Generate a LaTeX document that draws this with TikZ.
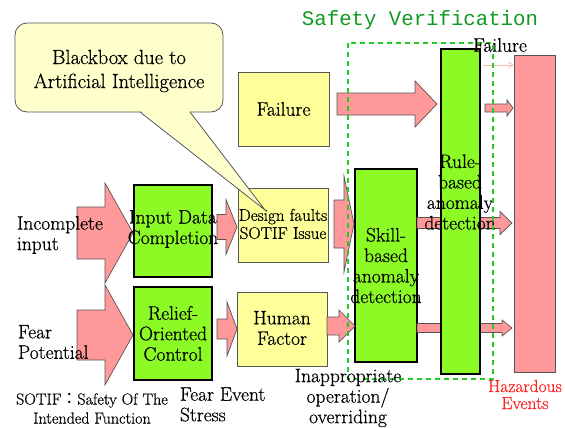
\documentclass[tikz,border=0pt]{standalone}
\usepackage{fontspec}
\usetikzlibrary{arrows.meta}
\setmainfont{Latin Modern Roman}[FakeBold=0.6]
\newfontfamily\titlemono{Liberation Mono}
\newfontfamily\cjkfont{Noto Sans CJK JP}
\definecolor{boxyellow}{HTML}{FFFF99}
\definecolor{calloutfill}{HTML}{FFFFCC}
\definecolor{limegreen}{HTML}{8CFA24}
\definecolor{arrowpink}{HTML}{FF9999}
\definecolor{lightpink}{HTML}{FFB8B8}
\definecolor{edgegray}{HTML}{555555}
\definecolor{verifgreen}{HTML}{22CC22}
\definecolor{titlegreen}{HTML}{119922}
\definecolor{hazardred}{HTML}{FF2222}
\newcommand{\lblfont}{\fontsize{19.5}{20.5}\selectfont}
\newcommand{\smallfont}{\fontsize{16}{19}\selectfont}
% block arrow: x start, x head base, x tip, y centre, shaft half height, head half height
\newcommand{\pinkarrow}[6]{%
  \draw[blockarrow] (#1,{#4-#5}) -- (#2,{#4-#5}) -- (#2,{#4-#6}) -- (#3,#4)
    -- (#2,{#4+#6}) -- (#2,{#4+#5}) -- (#1,{#4+#5}) -- cycle;}
\tikzset{
  yellowbox/.style={draw=edgegray, line width=0.8pt, fill=boxyellow, inner sep=0pt,
    outer sep=0pt},
  greenbox/.style={draw=black, line width=2pt, fill=limegreen, inner sep=0pt,
    outer sep=0pt},
  blockarrow/.style={draw=edgegray, line width=0.7pt, fill=arrowpink, line join=miter},
  lbl/.style={inner sep=0pt, outer sep=0pt, align=center, font=\lblfont},
}
\begin{document}
\begin{tikzpicture}[x=1pt,y=-1pt]
\useasboundingbox (0,0) rectangle (565,428);

% large input arrows
\pinkarrow{77}{105}{133}{233}{26}{50}
\pinkarrow{77}{105}{133}{335}{25}{50}

% processing boxes (labels are set on top so that they may run past the borders)
\node[greenbox, minimum width=78pt, minimum height=92pt] (input) at (173,231) {};
\node[greenbox, minimum width=78pt, minimum height=93pt] (relief) at (173,333.5) {};
\node[yellowbox, minimum width=91pt, minimum height=74pt] (failure) at (283.5,109) {};
\node[yellowbox, minimum width=90pt, minimum height=74pt] (design) at (283,225) {};
\node[yellowbox, minimum width=90pt, minimum height=74pt] (human) at (282,329) {};
\node[greenbox, minimum width=62pt, minimum height=193pt] (skill) at (386,265.5) {};

\node[lbl] (inputlbl) at ([yshift=2pt]input.center) {Input Data\\Completion};
\node[lbl] (relieflbl) at (relief.center) {Relief-\\Oriented\\Control};
\node[lbl] (failurelbl) at (failure.center) {Failure};
\node[lbl, font=\fontsize{17}{18}\selectfont] (designlbl) at ([yshift=1pt]design.center) {Design faults\\SOTIF Issue};
\node[lbl] (humanlbl) at ([yshift=1pt]human.center) {Human\\Factor};
\node[lbl] (skilllbl) at (skill.center) {Skill-\\based\\anomaly\\detection};

% connecting arrows
\pinkarrow{217}{226}{237}{227}{12.5}{27.5}
\pinkarrow{217}{227}{237}{329}{10}{27}
\pinkarrow{334}{344}{354}{224}{24}{48}
\pinkarrow{327}{339}{355}{326}{9}{16}
\pinkarrow{337}{415}{437}{104}{11}{23}

% arrows from the skill-based stage pass behind the rule-based stage
\pinkarrow{417}{500}{512}{223}{5.5}{11.5}
\pinkarrow{417}{502}{512}{328}{4.5}{8}

\node[greenbox, minimum width=39pt, minimum height=325pt] (rule) at (460.5,211.5) {};
\node[lbl] (rulelbl) at (460,192) {Rule-\\based\\anomaly\\detection};

% hazardous events column
\pinkarrow{485}{507}{513}{108}{4}{8}
\node[draw=edgegray, line width=0.8pt, fill=arrowpink, inner sep=0pt, outer sep=0pt,
  minimum width=41pt, minimum height=317pt] (hazard) at (534.5,213.5) {};
\coordinate (failstart) at (483,65);
\draw[lightpink, line width=0.8pt, -{Straight Barb[length=5pt,width=6pt]}] (failstart) -- (failstart -| hazard.west);

% speech bubble
\draw[edgegray, line width=0.8pt, fill=calloutfill, rounded corners=12pt] (15,23) rectangle (223,112);
\fill[calloutfill] (141,111) -- (265,210) -- (189,111) -- cycle;
\coordinate (bubbleA) at (140,112);
\coordinate (bubbleB) at (190,112);
\coordinate (bubbletip) at (265,210);
\draw[edgegray, line width=0.8pt, line join=miter] (bubbleA) -- (bubbletip) -- (bubbleB);
\node[lbl, font=\fontsize{20.5}{24}\selectfont] (callouttext) at (119,71) {Blackbox due to\\Artificial Intelligence};

% verification region
\draw[verifgreen, line width=1.3pt, dash pattern=on 5pt off 4pt] (348,43) rectangle (493,379);
\node[inner sep=0pt, text=titlegreen, font=\titlemono\fontsize{20.7}{24}\selectfont] (title) at (420,20) {Safety Verification};

% free labels
\node[lbl, align=left, anchor=west] (incomplete) at (17,235) {Incomplete\\input};
\node[lbl, align=left, anchor=west] (fear) at (18,342) {Fear\\Potential};
\node[lbl, font=\smallfont] (sotif) at (92,408.5) {SOTIF{\cjkfont ：}Safety Of The\\Intended Function};
\node[lbl, align=left, anchor=west] (fearevent) at (180,404.5) {Fear Event\\Stress};
\node[lbl] (inapp) at (348,398) {Inappropriate\\operation/\\overriding};
\node[lbl] (failtop) at (500,45) {Failure};
\node[lbl, text=hazardred, font=\fontsize{17.5}{17}\selectfont] (hazlbl) at (525,394.5) {Hazardous\\Events};
\end{tikzpicture}
\end{document}
